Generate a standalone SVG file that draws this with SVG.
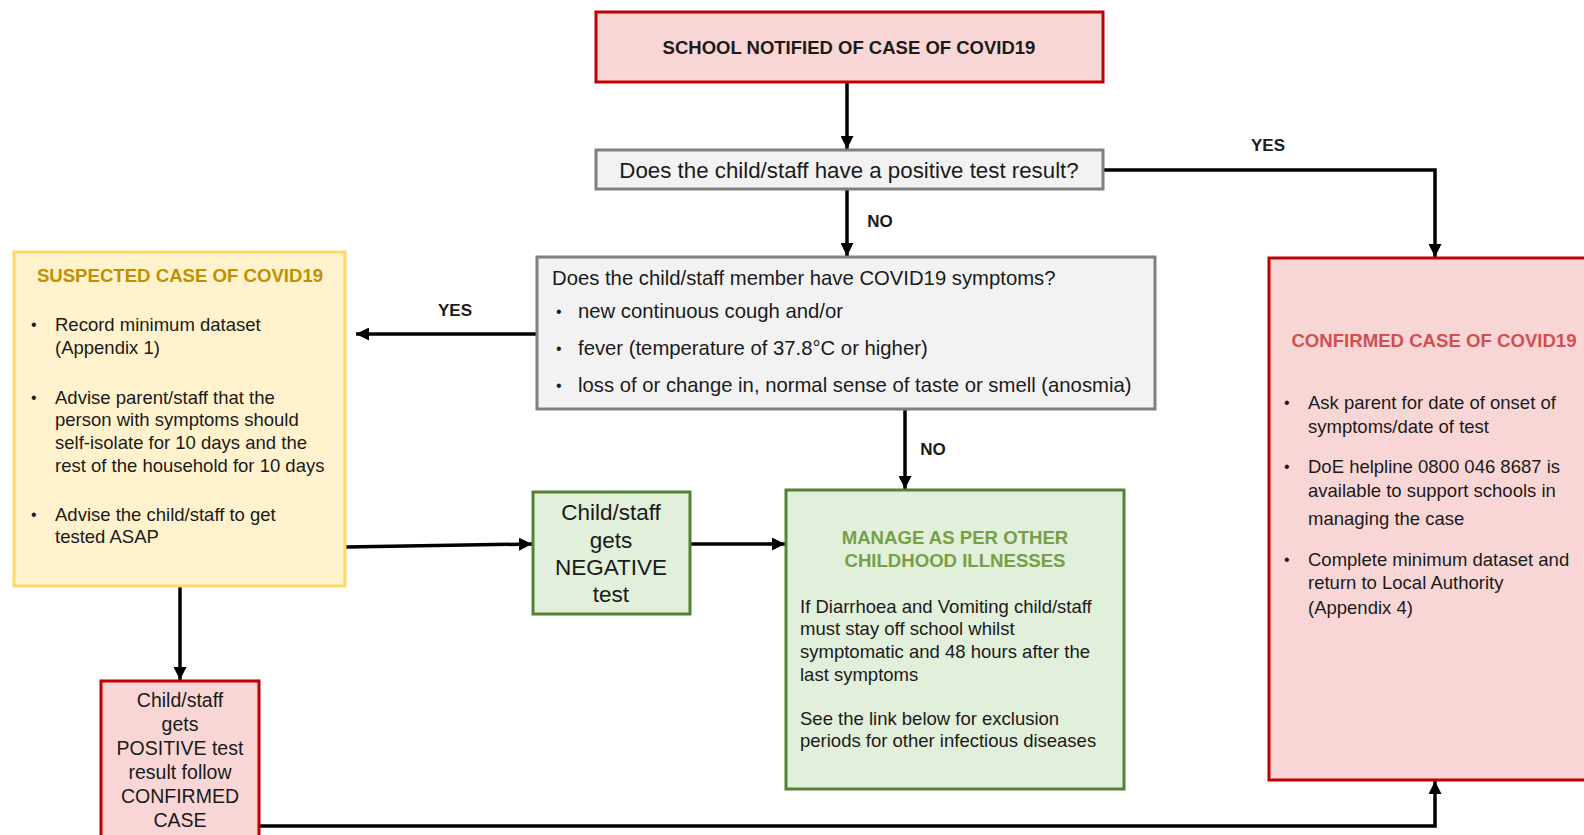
<svg xmlns="http://www.w3.org/2000/svg" width="1584" height="835" viewBox="0 0 1584 835">
<style>
text{font-family:"Liberation Sans",Arial,sans-serif;fill:#1a1a1a}
.red{fill:#F9D6D6;stroke:#C00000;stroke-width:3}
.gray{fill:#F2F2F2;stroke:#7F7F7F;stroke-width:3}
.yel{fill:#FFF2CC;stroke:#FFD966;stroke-width:3}
.grn{fill:#E2EFDA;stroke:#548235;stroke-width:3}
.b{font-weight:bold}
.t20{font-size:20.3px}
.t18{font-size:18.5px}
.t16{font-size:16px}
.lbl{font-size:17px;font-weight:bold}
.conn{stroke:#000;stroke-width:3.5;fill:none}
</style>
<defs>
<marker id="ah" viewBox="0 0 10 10" refX="10" refY="5" markerWidth="13" markerHeight="13" markerUnits="userSpaceOnUse" orient="auto">
<path d="M0,0 L10,5 L0,10 z" fill="#000"/>
</marker>
</defs>
<g id="connectors">
<line class="conn" x1="847" y1="82" x2="847" y2="149" marker-end="url(#ah)"/>
<polyline class="conn" points="1103,170 1435,170 1435,257" marker-end="url(#ah)"/>
<line class="conn" x1="847" y1="189" x2="847" y2="256" marker-end="url(#ah)"/>
<line class="conn" x1="537" y1="334" x2="356" y2="334" marker-end="url(#ah)"/>
<line class="conn" x1="905" y1="409" x2="905" y2="489" marker-end="url(#ah)"/>
<line class="conn" x1="346" y1="547" x2="532" y2="544" marker-end="url(#ah)"/>
<line class="conn" x1="690" y1="544" x2="785" y2="544" marker-end="url(#ah)"/>
<line class="conn" x1="180" y1="586" x2="180" y2="680" marker-end="url(#ah)"/>
<polyline class="conn" points="259,826 1435,826 1435,781" marker-end="url(#ah)"/>
<text class="lbl" x="1268" y="151" text-anchor="middle">YES</text>
<text class="lbl" x="880" y="227" text-anchor="middle">NO</text>
<text class="lbl" x="455" y="316" text-anchor="middle">YES</text>
<text class="lbl" x="933" y="455" text-anchor="middle">NO</text>
</g>
<g id="school-notified">
<rect class="red" x="596" y="12" width="507" height="70"/>
<text class="b" x="849" y="54" font-size="18.5" text-anchor="middle">SCHOOL NOTIFIED OF CASE OF COVID19</text>
</g>
<g id="positive-test-question">
<rect class="gray" x="596" y="150" width="507" height="39"/>
<text x="849" y="177.5" font-size="22.3" text-anchor="middle">Does the child/staff have a positive test result?</text>
</g>
<g id="symptoms-question">
<rect class="gray" x="537" y="257" width="618" height="152"/>
<text class="t20" x="552" y="285">Does the child/staff member have COVID19 symptoms?</text>
<text class="t16" x="556" y="317">•</text>
<text class="t20" x="578" y="318">new continuous cough and/or</text>
<text class="t16" x="556" y="354">•</text>
<text class="t20" x="578" y="355">fever (temperature of 37.8°C or higher)</text>
<text class="t16" x="556" y="391">•</text>
<text class="t20" x="578" y="392">loss of or change in, normal sense of taste or smell (anosmia)</text>
</g>
<g id="suspected-case">
<rect class="yel" x="14" y="252" width="331" height="334"/>
<text class="b" x="180" y="282" font-size="18.6" text-anchor="middle" style="fill:#BF9000">SUSPECTED CASE OF COVID19</text>
<text class="t16" x="31" y="330">•</text>
<text class="t18" x="55" y="331">Record minimum dataset</text>
<text class="t18" x="55" y="354">(Appendix 1)</text>
<text class="t16" x="31" y="403">•</text>
<text class="t18" x="55" y="404">Advise parent/staff that the</text>
<text class="t18" x="55" y="426">person with symptoms should</text>
<text class="t18" x="55" y="449">self-isolate for 10 days and the</text>
<text class="t18" x="55" y="472">rest of the household for 10 days</text>
<text class="t16" x="31" y="520">•</text>
<text class="t18" x="55" y="521">Advise the child/staff to get</text>
<text class="t18" x="55" y="543">tested ASAP</text>
</g>
<g id="negative-test">
<rect class="grn" x="533" y="492" width="157" height="122"/>
<text x="611" y="520" font-size="22.5" text-anchor="middle">Child/staff</text>
<text x="611" y="548" font-size="22.5" text-anchor="middle">gets</text>
<text x="611" y="575" font-size="22.5" text-anchor="middle">NEGATIVE</text>
<text x="611" y="602" font-size="22.5" text-anchor="middle">test</text>
</g>
<g id="manage-other-illnesses">
<rect class="grn" x="786" y="490" width="338" height="299"/>
<text class="b" x="955" y="544" font-size="18.6" text-anchor="middle" style="fill:#76A045">MANAGE AS PER OTHER</text>
<text class="b" x="955" y="567" font-size="18.6" text-anchor="middle" style="fill:#76A045">CHILDHOOD ILLNESSES</text>
<text class="t18" x="800" y="613">If Diarrhoea and Vomiting child/staff</text>
<text class="t18" x="800" y="635">must stay off school whilst</text>
<text class="t18" x="800" y="658">symptomatic and 48 hours after the</text>
<text class="t18" x="800" y="681">last symptoms</text>
<text class="t18" x="800" y="725">See the link below for exclusion</text>
<text class="t18" x="800" y="747">periods for other infectious diseases</text>
</g>
<g id="confirmed-case">
<rect class="red" x="1269" y="258" width="330" height="522"/>
<text class="b" x="1434" y="347" font-size="18.6" text-anchor="middle" style="fill:#D0504F">CONFIRMED CASE OF COVID19</text>
<text class="t16" x="1284" y="408">•</text>
<text class="t18" x="1308" y="409">Ask parent for date of onset of</text>
<text class="t18" x="1308" y="433">symptoms/date of test</text>
<text class="t16" x="1284" y="472">•</text>
<text class="t18" x="1308" y="473">DoE helpline 0800 046 8687 is</text>
<text class="t18" x="1308" y="497">available to support schools in</text>
<text class="t18" x="1308" y="525">managing the case</text>
<text class="t16" x="1284" y="565">•</text>
<text class="t18" x="1308" y="566">Complete minimum dataset and</text>
<text class="t18" x="1308" y="589">return to Local Authority</text>
<text class="t18" x="1308" y="614">(Appendix 4)</text>
</g>
<g id="positive-test">
<rect class="red" x="101" y="681" width="158" height="165"/>
<text x="180" y="707" font-size="19.5" text-anchor="middle">Child/staff</text>
<text x="180" y="731" font-size="19.5" text-anchor="middle">gets</text>
<text x="180" y="755" font-size="19.5" text-anchor="middle">POSITIVE test</text>
<text x="180" y="779" font-size="19.5" text-anchor="middle">result follow</text>
<text x="180" y="803" font-size="19.5" text-anchor="middle">CONFIRMED</text>
<text x="180" y="827" font-size="19.5" text-anchor="middle">CASE</text>
</g>
</svg>
